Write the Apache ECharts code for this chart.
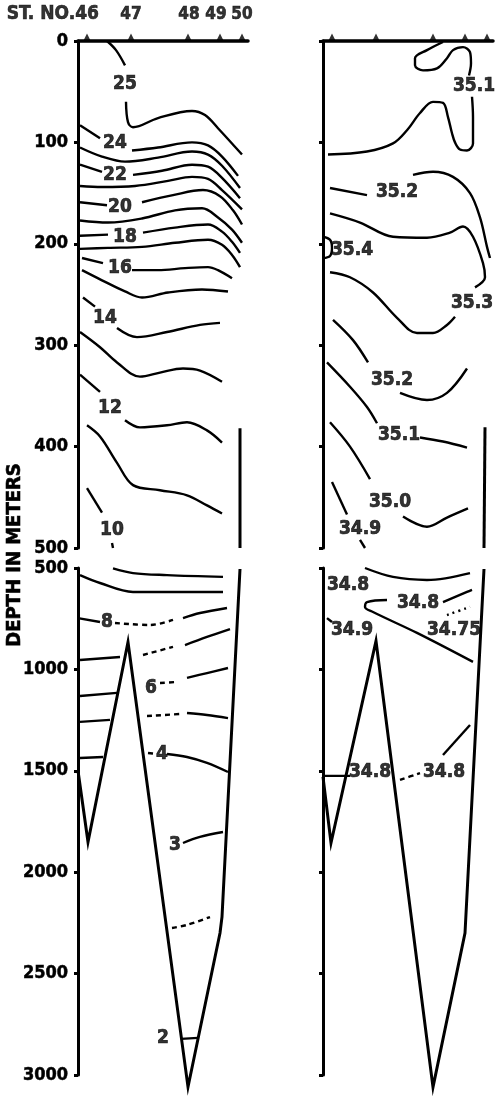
<!DOCTYPE html>
<html><head><meta charset="utf-8">
<script src="https://cdn.jsdelivr.net/npm/echarts@6.0.0/dist/echarts.min.js"></script>
<style>html,body{margin:0;padding:0;background:#fff}#c{width:500px;height:1097px}</style>
</head><body><div id="c"></div>
<script>
// ---------- stations / axes ----------
const stationNames = ['ST. NO.46', '47', '48', '49', '50'];
const stationDist = [9, 53, 110, 142, 164];
const upperDepthTicks = [0, 100, 200, 300, 400, 500];
const lowerDepthTicks = [500, 1000, 1500, 2000, 2500, 3000];
const yTitle = 'DEPTH IN METERS';

// ---------- temperature, 0-500 m ----------
const T25_a = [[29,0],[38,9],[47,24]];
const T25_b = [[48,60],[50,80],[55,85],[80,76],[114,69],[127,73],[140,86],[164,112]];
const T24_a = [[2,83],[22,96]];
const T24_b = [[54,108],[80,105],[114,100],[130,103],[144,114],[160,133]];
const T23 = [[2,105],[24,114],[47,119],[80,115],[114,109],[130,112],[144,123],[162,145]];
const T22_a = [[2,122],[24,129]];
const T22_b = [[55,132],[84,128],[114,122],[130,124],[144,135],[162,155]];
const T21 = [[2,143],[24,144],[57,143],[90,138],[114,134],[130,136],[144,147],[164,166]];
const T20_a = [[2,159],[29,162]];
const T20_b = [[64,159],[95,152],[125,147],[142,153],[155,167],[164,181]];
const T19 = [[2,177],[30,179],[64,175],[97,167],[124,165],[140,174],[154,186],[164,199]];
const T18_a = [[2,192],[30,191]];
const T18_b = [[65,189],[97,184],[130,181],[144,188],[154,198],[162,209]];
const T17 = [[2,205],[30,204],[64,203],[97,199],[130,196],[144,201],[154,211],[162,223]];
const T16_a = [[4,214],[25,219]];
const T16_b = [[54,226],[80,226],[107,224],[130,223],[140,226],[154,234]];
const T15 = [[4,226],[24,236],[47,247],[64,253],[90,248],[124,245],[150,247]];
const T14_a = [[5,253],[17,262]];
const T14_b = [[39,283],[59,292],[89,287],[122,280],[142,278]];
const T13 = [[2,287],[22,302],[39,317],[62,331],[82,327],[105,323],[122,325],[144,336]];
const T12_a = [[2,329],[22,346]];
const T12_b = [[47,374],[62,381],[89,379],[109,376],[129,384],[144,396]];
const T11 = [[9,379],[22,390],[39,416],[55,438],[82,443],[109,448],[129,458],[144,466]];
const T10_a = [[9,441],[24,465]];
const T10_b = [[34,495],[35,500]];
const bottomUL = [[162,382],[162,500]];
const labelsUL = [[47,42,'25'],[37,101,'24'],[37,132,'22'],[42,164,'20'],[47,193,'18'],[42,224,'16'],[27,273,'14'],[32,362,'12'],[34,482,'10']];

// ---------- temperature, 500-3000 m ----------
const T9_top = [[35,502],[55,525],[89,535],[145,544]];
const T9_low = [[2,535],[22,574],[55,618],[89,618],[145,618]];
const T8_a = [[0,747],[22,766]];
const T8_dash = [[37,771],[72,781],[95,756]];
const T8_b = [[105,747],[122,722],[149,697]];
const T7_a = [[2,954],[42,939]];
const T7_dash = [[65,929],[95,889]];
const T7_b = [[107,880],[129,840],[152,801]];
const T6_a = [[2,1131],[39,1116]];
const T6_dash = [[82,1067],[99,1062]];
const T6_b = [[109,1042],[129,1018],[150,993]];
const T5_a = [[2,1259],[32,1249]];
const T5_dash = [[69,1230],[102,1220]];
const T5_b = [[109,1215],[129,1225],[150,1240]];
const T4_a = [[2,1437],[25,1432]];
const T4_dash = [[70,1412],[79,1417]];
const T4_b = [[89,1417],[109,1432],[129,1461],[150,1506]];
const T3 = [[105,1856],[122,1826],[145,1802]];
const T2h_dash = [[94,2275],[109,2260],[132,2221]];
const T2 = [[103,2822],[120,2817]];
const bottomLL = [[0,1500],[10,1851],[50,865],[110,3059],[142,2300],[144,2220],[162,505]];
const labelsLL = [[29,766,'8'],[73,1090,'6'],[84,1417,'4'],[97,1866,'3'],[85,2817,'2']];

// ---------- salinity, 0-500 m ----------
const S351_a = [[5,112],[44,109],[70,101],[84,88],[97,71],[110,60],[120,61],[125,75],[129,91],[132,100],[137,107],[144,108],[150,101],[150,75],[149,55]];
const S351_b = [[146,34],[148,22],[147,11],[140,6],[130,9],[124,17],[114,27],[100,29],[92,24],[92,17],[104,9],[120,1]];
const S352_a = [[7,145],[44,152]];
const S352_b = [[90,132],[110,129],[130,134],[147,150],[157,174],[164,203],[167,214]];
const S353_a = [[7,170],[37,179],[70,193],[104,194],[127,189],[140,183],[150,193],[160,219],[162,233],[152,243]];
const S353_b = [[132,272],[124,280],[110,288],[94,288],[74,273],[50,248],[27,233],[7,228]];
const S354 = [[0,193],[7,196],[9,204],[7,212],[0,214]];
const S352L_a = [[10,275],[30,295],[45,317]];
const S352L_b = [[77,347],[104,354],[124,347],[144,323]];
const S351L_a = [[4,317],[27,341],[44,361],[54,377]];
const S351L_b = [[97,391],[120,395],[144,401]];
const S350_a = [[7,376],[27,400],[47,432]];
const S350_b = [[80,469],[104,479],[124,470],[145,461]];
const S349_a = [[9,435],[24,467]];
const S349_b = [[37,492],[42,500]];
const bottomUR = [[162,381],[161,500]];
const labelsUR = [[151,44,'35.1'],[74,149,'35.2'],[149,258,'35.3'],[29,206,'35.4'],[69,334,'35.2'],[76,389,'35.1'],[67,455,'35.0'],[37,481,'34.9']];

// ---------- salinity, 500-3000 m ----------
const S_top = [[42,500],[70,544],[104,559],[147,525]];
const S348_a = [[150,963],[94,820],[50,717],[42,692],[44,668],[64,658]];
const S348_b = [[120,668],[144,618],[149,608]];
const S3475_dot = [[124,732],[147,692]];
const S349_tick = [[4,747],[9,766]];
const S348_deep = [[120,1422],[147,1274]];
const S348L_a = [[2,1525],[27,1525]];
const S348L_dash = [[77,1545],[97,1511]];
const bottomLR = [[0,1530],[8,1856],[53,860],[110,3060],[142,2300],[161,505]];
const labelsLR = [[25,584,'34.8'],[95,673,'34.8'],[131,806,'34.75'],[29,806,'34.9'],[47,1506,'34.8'],[121,1506,'34.8']];

// ---------- build ----------
const FONT = "'Liberation Sans Narrow','DejaVu Sans Condensed','Arial Narrow',sans-serif";
const series = [];
function ln(g, data, style, width) {
  series.push({
    type: 'line', xAxisIndex: g, yAxisIndex: g, data: data, smooth: 0.35,
    symbol: 'none', silent: true, clip: false, animation: false,
    lineStyle: { color: '#000', width: width || 2.4, type: style === 'dash' ? [5, 4] : (style === 'dot' ? [2, 4] : 'solid') }
  });
}
function straight(g, data, width) {
  series.push({
    type: 'line', xAxisIndex: g, yAxisIndex: g, data: data, smooth: false,
    symbol: 'none', silent: true, clip: false, animation: false,
    lineStyle: { color: '#000', width: width, join: 'miter' }
  });
}
function labels(g, data, size) {
  series.push({
    type: 'scatter', xAxisIndex: g, yAxisIndex: g, data: data, symbolSize: 0.1,
    itemStyle: { color: 'transparent' }, silent: true, clip: false, animation: false,
    label: { show: true, position: 'inside', formatter: p => p.value[2], color: '#000',
      fontFamily: FONT, fontWeight: 'bold', fontSize: size || 19,
      textBorderColor: '#000', textBorderWidth: 0.7 }
  });
}
[T25_a,T25_b,T24_a,T24_b,T23,T22_a,T22_b,T21,T20_a,T20_b,T19,T18_a,T18_b,T17,T16_a,T16_b,T15,T14_a,T14_b,T13,T12_a,T12_b,T11,T10_a,T10_b].forEach(d => ln(0, d));
straight(0, bottomUL, 3);
labels(0, labelsUL);

[T9_top,T9_low,T8_a,T8_b,T7_a,T7_b,T6_a,T6_b,T5_a,T5_b,T4_a,T4_b,T3,T2].forEach(d => ln(1, d));
[T8_dash,T7_dash,T6_dash,T5_dash,T4_dash,T2h_dash].forEach(d => ln(1, d, 'dash'));
straight(1, bottomLL, 3);
labels(1, labelsLL);

[S351_a,S351_b,S352_a,S352_b,S353_a,S353_b,S354,S352L_a,S352L_b,S351L_a,S351L_b,S350_a,S350_b,S349_a,S349_b].forEach(d => ln(2, d));
straight(2, bottomUR, 3);
labels(2, labelsUR);

[S_top,S348_a,S348_b,S349_tick,S348_deep,S348L_a].forEach(d => ln(3, d));
ln(3, S3475_dot, 'dot');
ln(3, S348L_dash, 'dash');
straight(3, bottomLR, 3);
labels(3, labelsLR);

// station markers and names
const stationLabelOffsets = [[12, 0], [0, 0], [1, 0], [-4, 0], [0, 0]];
[0, 2].forEach(g => {
  series.push({
    type: 'scatter', xAxisIndex: g, yAxisIndex: g, silent: true, clip: false, animation: false,
    data: stationDist.map((x, i) => ({
      value: [x, 0],
      label: g === 0 ? { align: i === 0 ? 'right' : 'center', offset: stationLabelOffsets[i], fontSize: i === 0 ? 19 : 17 } : {}
    })),
    symbol: 'triangle', symbolSize: [7, 7], symbolOffset: [0, -4],
    itemStyle: { color: '#000' },
    label: { show: g === 0, position: 'top', distance: 10, formatter: p => stationNames[p.dataIndex],
      color: '#000', fontFamily: FONT, fontWeight: 'bold', fontSize: 17,
      textBorderColor: '#000', textBorderWidth: 0.6 }
  });
});

const grids = [
  { left: 78, top: 41, width: 170, height: 507 },
  { left: 78, top: 568, width: 170, height: 507 },
  { left: 323, top: 41, width: 170, height: 507 },
  { left: 323, top: 568, width: 170, height: 507 }
];
const xAxes = grids.map((g, i) => ({
  type: 'value', gridIndex: i, min: 0, max: 170, show: i === 0 || i === 2,
  position: 'top', axisLine: { show: true, lineStyle: { color: '#000', width: 3.5 } },
  axisTick: { show: false }, axisLabel: { show: false }, splitLine: { show: false }
}));
const yAxes = grids.map((g, i) => {
  const upper = i % 2 === 0;
  const ticks = upper ? upperDepthTicks : lowerDepthTicks;
  return {
    type: 'value', gridIndex: i, inverse: true,
    min: ticks[0], max: ticks[ticks.length - 1], interval: ticks[1] - ticks[0],
    axisLine: { show: true, lineStyle: { color: '#000', width: 3 } },
    axisTick: { show: true, length: 4, lineStyle: { color: '#000', width: 3 } },
    axisLabel: { show: i < 2, margin: 10, color: '#000', fontFamily: FONT, fontWeight: 'bold', fontSize: 18,
      formatter: v => String(v), textBorderColor: '#000', textBorderWidth: 0.5 },
    splitLine: { show: false }
  };
});

const chart = echarts.init(document.getElementById('c'), null, { renderer: 'canvas' });
chart.setOption({
  backgroundColor: '#fff',
  animation: false,
  grid: grids,
  xAxis: xAxes,
  yAxis: yAxes,
  series: series,
  graphic: [{
    type: 'text', x: 15, y: 555, rotation: Math.PI / 2,
    style: { text: yTitle, fill: '#000', font: "bold 20px " + FONT, textAlign: 'center', textVerticalAlign: 'middle',
      stroke: '#000', lineWidth: 0.6 }
  }]
});
</script></body></html>
